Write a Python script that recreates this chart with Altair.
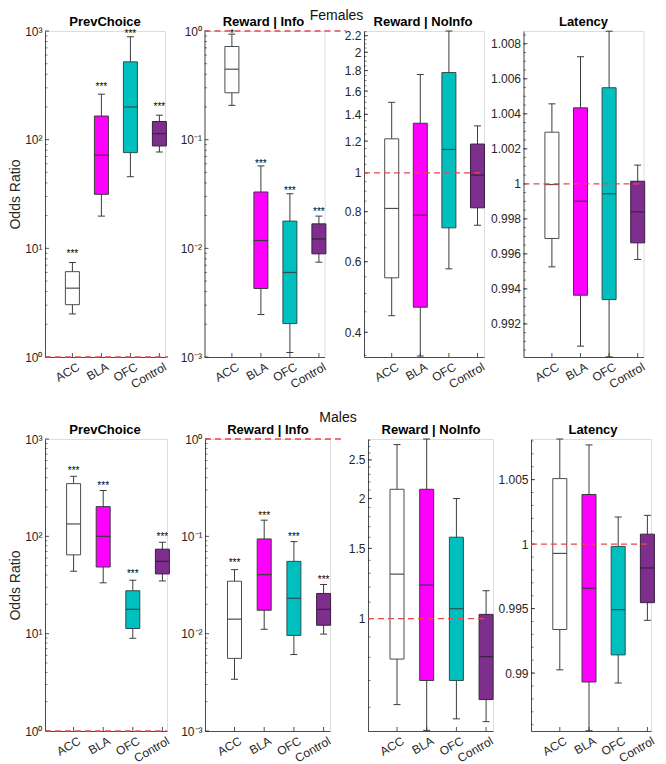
import altair as alt
import pandas as pd

regions = ["ACC", "BLA", "OFC", "Control"]
positions = [1, 2, 3, 4]
box_fill = ["#FFFFFF", "#FF00FF", "#00BFBF", "#7E2F8E"]
box_edge = ["#4D4D4D", "#3A3A3A", "#2F4F4F", "#3A2040"]

# ---------------- Females ----------------
f_prev_lo = [2.49, 19.8, 45.6, 77.0]
f_prev_q1 = [3.03, 31.4, 76.0, 87.5]
f_prev_med = [4.3, 72.0, 200.0, 113.5]
f_prev_q3 = [6.1, 165.0, 520.0, 147.0]
f_prev_hi = [7.4, 262.0, 885.0, 168.0]
f_prev_star_y = [9.1, 313.0, 958.0, 204.0]
f_prev_star = ["***", "***", "***", "***"]

f_info_lo = [0.207, 0.00246, 0.0011, 0.00746]
f_info_q1 = [0.27, 0.00427, 0.00203, 0.0089]
f_info_med = [0.445, 0.0118, 0.0060, 0.0122]
f_info_q3 = [0.72, 0.033, 0.0178, 0.0168]
f_info_hi = [0.936, 0.0573, 0.0318, 0.0198]
f_info_star_y = [0.95, 0.0614, 0.0342, 0.022]
f_info_star = ["*", "***", "***", "***"]

f_noinfo_lo = [0.44, 0.349, 0.576, 0.74]
f_noinfo_q1 = [0.547, 0.462, 0.729, 0.818]
f_noinfo_med = [0.815, 0.784, 1.144, 0.987]
f_noinfo_q3 = [1.216, 1.33, 1.78, 1.18]
f_noinfo_hi = [1.50, 1.76, 2.26, 1.31]

f_lat_lo = [0.99526, 0.99073, 0.99012, 0.99568]
f_lat_q1 = [0.99688, 0.99364, 0.99339, 0.99663]
f_lat_med = [0.99996, 0.99901, 0.99943, 0.99840]
f_lat_q3 = [1.00295, 1.00434, 1.00549, 1.00015]
f_lat_hi = [1.00457, 1.00726, 1.00872, 1.00107]

# ---------------- Males ----------------
m_prev_lo = [43.8, 33.3, 8.97, 34.8]
m_prev_q1 = [64.5, 48.4, 11.3, 41.1]
m_prev_med = [134.0, 100.0, 17.8, 55.3]
m_prev_q3 = [348.0, 202.0, 27.6, 73.8]
m_prev_hi = [414.0, 296.0, 35.4, 86.9]
m_prev_star_y = [484.0, 335.0, 42.4, 101.6]
m_prev_star = ["***", "***", "***", "***"]

m_info_lo = [0.0034, 0.0111, 0.0061, 0.0099]
m_info_q1 = [0.00557, 0.0174, 0.0096, 0.0122]
m_info_med = [0.0141, 0.0404, 0.0231, 0.0178]
m_info_q3 = [0.0346, 0.094, 0.0553, 0.0259]
m_info_hi = [0.0455, 0.1466, 0.0883, 0.032]
m_info_star_y = [0.0544, 0.166, 0.1, 0.0368]
m_info_star = ["***", "***", "***", "***"]

m_noinfo_lo = [0.609, 0.525, 0.561, 0.552]
m_noinfo_q1 = [0.792, 0.70, 0.70, 0.627]
m_noinfo_med = [1.293, 1.214, 1.059, 0.803]
m_noinfo_q3 = [2.11, 2.11, 1.60, 1.025]
m_noinfo_hi = [2.73, 2.82, 2.0, 1.175]

m_lat_lo = [0.99025, 0.98553, 0.98923, 0.99409]
m_lat_q1 = [0.99338, 0.98931, 0.99141, 0.99546]
m_lat_med = [0.99928, 0.99658, 0.99492, 0.99815]
m_lat_q3 = [1.00508, 1.00385, 0.99982, 1.00077]
m_lat_hi = [1.00815, 1.00769, 1.0021, 1.00223]

# ---------------- axes ticks ----------------
decades_pos = [1.0, 10.0, 100.0, 1000.0]
decades_pos_lab = ["10⁰", "10¹", "10²", "10³"]
decades_neg = [0.001, 0.01, 0.1, 1.0]
decades_neg_lab = ["10⁻³", "10⁻²", "10⁻¹", "10⁰"]
minor_pos = [k * 10.0 ** e for e in range(0, 3) for k in range(2, 10)]
minor_neg = [k * 10.0 ** e for e in range(-3, 0) for k in range(2, 10)]
f_noinfo_ticks = [0.4, 0.6, 0.8, 1.0, 1.2, 1.4, 1.6, 1.8, 2.0, 2.2]
f_noinfo_lab = ["0.4", "0.6", "0.8", "1", "1.2", "1.4", "1.6", "1.8", "2", "2.2"]
f_noinfo_minor = [round(0.35 + 0.05 * i, 2) for i in range(39)]
m_noinfo_ticks = [1.0, 1.5, 2.0, 2.5]
m_noinfo_lab = ["1", "1.5", "2", "2.5"]
m_noinfo_minor = [round(0.6 + 0.1 * i, 1) for i in range(23)]
f_lat_ticks = [0.992, 0.994, 0.996, 0.998, 1.0, 1.002, 1.004, 1.006, 1.008]
f_lat_lab = ["0.992", "0.994", "0.996", "0.998", "1", "1.002", "1.004", "1.006", "1.008"]
f_lat_minor = [round(0.9905 + 0.0005 * i, 5) for i in range(37)]
m_lat_ticks = [0.99, 0.995, 1.0, 1.005]
m_lat_lab = ["0.99", "0.995", "1", "1.005"]
m_lat_minor = [round(0.986 + 0.001 * i, 4) for i in range(23)]

AX = "#262626"
WHISK = "#3C3C3C"
RED = "#E8474C"
FONT = "Liberation Sans"


def label_expr(vals, labels):
    parts = [f"abs(datum.value / {v!r} - 1) < 1e-6 ? '{s}'" for v, s in zip(vals, labels)]
    return " : ".join(parts) + " : ''"


def panel(stats, ylog, ydom, yticks, ylabels, yminor, W, H, title, title_x, xoff, xstep,
          ref_end, ytitle=None, star_y=None, star_txt=None, row_title=None, row_x=0,
          row_baseline="top", row_y=-22):
    lo, q1, med, q3, hi = stats
    df = pd.DataFrame({"pos": positions, "region": regions, "lo": lo, "q1": q1,
                       "med": med, "q3": q3, "hi": hi})
    xlo = 1 - xoff / xstep
    xhi = xlo + W / xstep
    if ylog:
        ys = alt.Scale(type="log", domain=ydom, nice=False)
    else:
        ys = alt.Scale(type="linear", domain=ydom, nice=False, zero=False)
    xs = alt.Scale(type="linear", domain=[xlo, xhi], nice=False, zero=False)
    yax = alt.Axis(values=yticks, labelExpr=label_expr(yticks, ylabels), ticks=False,
                   grid=False, domainColor=AX, domainWidth=0.8, labelColor=AX,
                   labelFontSize=12, labelFont=FONT, labelPadding=3, labelOverlap=False,
                   labelFlush=False, title=ytitle, titleFontSize=14, titleFont=FONT,
                   titleFontWeight="normal", titleColor=AX, titlePadding=2)
    xax = alt.Axis(values=positions,
                   labelExpr="['ACC','BLA','OFC','Control'][datum.value - 1]",
                   labelAngle=330, labelAlign="right", labelBaseline="top",
                   labelPadding=4, labelOffset=3, ticks=False, grid=False,
                   domainColor=AX, domainWidth=0.8, labelColor=AX, labelFontSize=12,
                   labelFont=FONT, labelOverlap=False, labelFlush=False, title=None)

    def X(f):
        return alt.X(f"{f}:Q", scale=xs, axis=xax)

    def Y(f):
        return alt.Y(f"{f}:Q", scale=ys, axis=yax)

    base = alt.Chart(df)
    layers = []
    layers.append(alt.Chart(pd.DataFrame({"v": yticks})).mark_rule(color=AX, strokeWidth=0.8)
                  .encode(y=Y("v"), x=alt.value(0), x2=alt.value(4)))
    if yminor:
        layers.append(alt.Chart(pd.DataFrame({"v": yminor})).mark_rule(color=AX, strokeWidth=0.6)
                      .encode(y=Y("v"), x=alt.value(0), x2=alt.value(2.5)))
    layers.append(base.mark_rule(color=AX, strokeWidth=0.8)
                  .encode(x=X("pos"), y=alt.value(H), y2=alt.value(H - 4)))
    layers.append(base.mark_rule(color=WHISK, strokeWidth=1)
                  .encode(x=X("pos"), y=Y("lo"), y2=alt.Y2("hi")))
    for f in ["lo", "hi"]:
        layers.append(base.mark_rule(color=WHISK, strokeWidth=1, xOffset=-3.5, x2Offset=3.5)
                      .encode(x=X("pos"), x2=alt.X2("pos"), y=Y(f)))
    stroke = alt.Stroke("region:N", scale=alt.Scale(domain=regions, range=box_edge), legend=None)
    layers.append(base.mark_rect(xOffset=-7, x2Offset=7, strokeWidth=1)
                  .encode(x=X("pos"), x2=alt.X2("pos"), y=Y("q1"), y2=alt.Y2("q3"),
                          fill=alt.Fill("region:N", scale=alt.Scale(domain=regions, range=box_fill), legend=None),
                          stroke=stroke))
    layers.append(base.mark_rule(strokeWidth=1.2, xOffset=-7, x2Offset=7)
                  .encode(x=X("pos"), x2=alt.X2("pos"), y=Y("med"), stroke=stroke))
    layers.append(alt.Chart(pd.DataFrame({"r": [1.0]}))
                  .mark_rule(color=RED, strokeDash=[6, 4], strokeWidth=1.4)
                  .encode(y=Y("r"), x=alt.value(0), x2=alt.value(ref_end)))
    if star_y is not None:
        sdf = pd.DataFrame({"pos": positions, "sy": star_y, "st": star_txt})
        layers.append(alt.Chart(sdf).mark_text(fontSize=10, font=FONT, color="#000000",
                                               baseline="alphabetic", dy=4)
                      .encode(x=X("pos"), y=Y("sy"), text="st:N"))
    layers.append(alt.Chart(pd.DataFrame({"t": [title]}))
                  .mark_text(fontSize=13, font=FONT, fontWeight="bold", color="#000000",
                             baseline="alphabetic", align="center")
                  .encode(x=alt.value(title_x), y=alt.value(-5), text="t:N"))
    if row_title is not None:
        layers.append(alt.Chart(pd.DataFrame({"t": [row_title]}))
                      .mark_text(fontSize=14, font=FONT, color="#111111", baseline=row_baseline,
                                 align="center")
                      .encode(x=alt.value(row_x), y=alt.value(row_y), text="t:N"))
    return alt.layer(*layers).properties(width=W, height=H)


TH = 326
BH = 292
TW = 120

top = alt.hconcat(
    panel([f_prev_lo, f_prev_q1, f_prev_med, f_prev_q3, f_prev_hi], True, [1, 1000],
          decades_pos, decades_pos_lab, minor_pos, TW, TH, "PrevChoice", 60, 27.4, 29, 123,
          ytitle="Odds Ratio", star_y=f_prev_star_y, star_txt=f_prev_star),
    panel([f_info_lo, f_info_q1, f_info_med, f_info_q3, f_info_hi], True, [0.001, 1],
          decades_neg, decades_neg_lab, minor_neg, TW, TH, "Reward | Info", 59, 27.4, 29, 142,
          star_y=f_info_star_y, star_txt=f_info_star, row_title="Females", row_x=132),
    panel([f_noinfo_lo, f_noinfo_q1, f_noinfo_med, f_noinfo_q3, f_noinfo_hi], True, [0.347, 2.26],
          f_noinfo_ticks, f_noinfo_lab, f_noinfo_minor, TW, TH, "Reward | NoInfo", 59, 27.7, 28.6, 117),
    panel([f_lat_lo, f_lat_q1, f_lat_med, f_lat_q3, f_lat_hi], False, [0.99011, 1.00873],
          f_lat_ticks, f_lat_lab, f_lat_minor, TW, TH, "Latency", 60, 28.4, 28.6, 117),
    spacing=39.5, bounds="flush")

bottom = alt.hconcat(
    panel([m_prev_lo, m_prev_q1, m_prev_med, m_prev_q3, m_prev_hi], True, [1, 1000],
          decades_pos, decades_pos_lab, minor_pos, 122, BH, "PrevChoice", 60, 28.6, 29.6, 122,
          ytitle="Odds Ratio", star_y=m_prev_star_y, star_txt=m_prev_star),
    panel([m_info_lo, m_info_q1, m_info_med, m_info_q3, m_info_hi], True, [0.001, 1],
          decades_neg, decades_neg_lab, minor_neg, 125, BH, "Reward | Info", 63, 29.5, 29.7, 136,
          star_y=m_info_star_y, star_txt=m_info_star, row_title="Males", row_x=133,
          row_baseline="alphabetic", row_y=-17),
    panel([m_noinfo_lo, m_noinfo_q1, m_noinfo_med, m_noinfo_q3, m_noinfo_hi], True, [0.523, 2.82],
          m_noinfo_ticks, m_noinfo_lab, m_noinfo_minor, 125, BH, "Reward | NoInfo", 63, 29, 29.7, 118),
    panel([m_lat_lo, m_lat_q1, m_lat_med, m_lat_q3, m_lat_hi], False, [0.98551, 1.00815],
          m_lat_ticks, m_lat_lab, m_lat_minor, 120, BH, "Latency", 62, 28.8, 29.2, 120),
    spacing=38, bounds="flush")

chart = alt.vconcat(top, bottom, spacing=19).properties(
    padding={"left": 0, "top": 0, "right": 0, "bottom": 0}
).configure_view(stroke=None).configure(font=FONT)

chart.save("out.html", embed_options={"renderer": "svg", "actions": False})
